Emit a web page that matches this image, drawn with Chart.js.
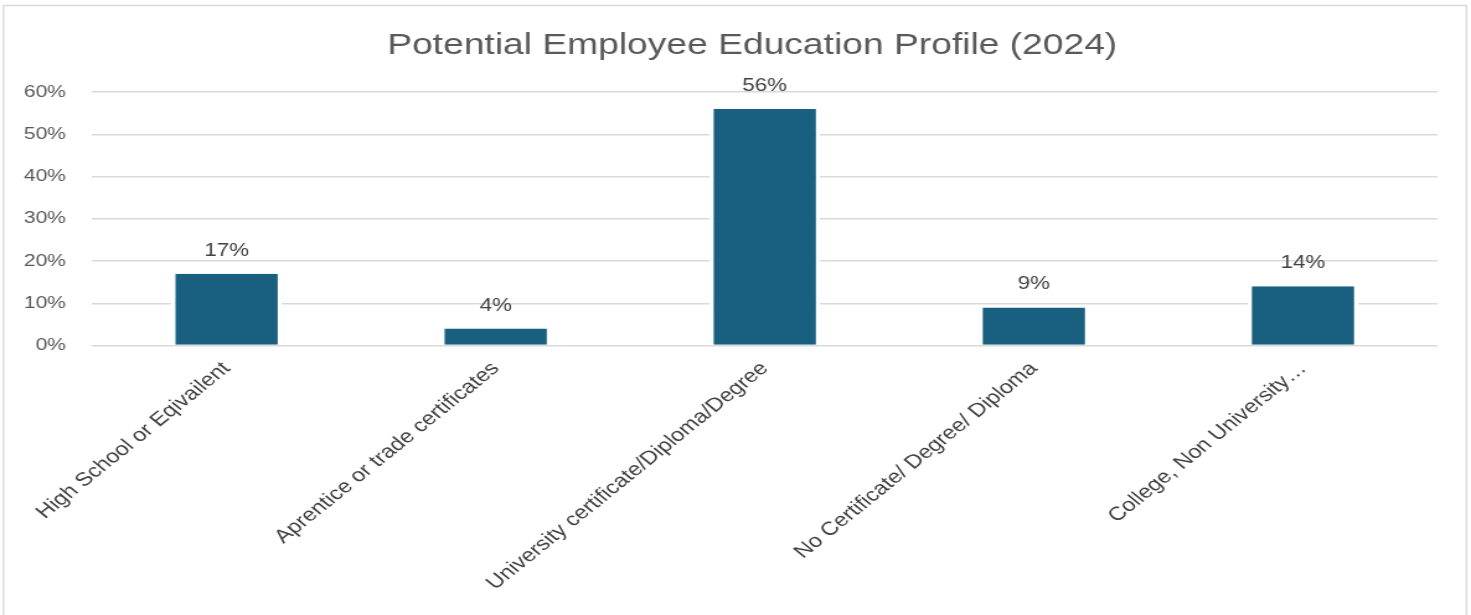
<!DOCTYPE html>
<html>
<head>
<meta charset="utf-8">
<script src="https://cdn.jsdelivr.net/npm/chart.js@4.4.1/dist/chart.umd.min.js"></script>
<style>
  html, body { margin: 0; padding: 0; background: #ffffff; overflow: hidden; }
  #wrap { position: absolute; left: 0; top: 0; width: 1186px; height: 615px;
          transform: scaleX(1.2403); transform-origin: 0 0; }
</style>
</head>
<body>
<div id="wrap"><canvas id="chart" width="1186" height="615"></canvas></div>
<script>
// Education profile, share of potential employees (percent)
const titleText = 'Potential Employee Education Profile (2024)';
const categories = [
  'High School or Eqivailent',
  'Aprentice or trade certificates',
  'University certificate/Diploma/Degree',
  'No Certificate/ Degree/ Diploma',
  'College, Non University\u2026'
];
const shares = [17, 4, 56, 9, 14];
const yTicks = [0, 10, 20, 30, 40, 50, 60];

const FONT = '"Liberation Sans", Arial, sans-serif';
const GRID = '#D9D9D9';
const TEXT = '#595959';
const LABEL = '#404040';
const BAR = '#185F80';

// Outer frame of the chart box and the title
const framePlugin = {
  id: 'frame',
  beforeDraw(chart) {
    const ctx = chart.ctx;
    ctx.save();
    ctx.strokeStyle = GRID;
    ctx.lineWidth = 1.3;
    ctx.beginPath();
    ctx.moveTo(2.8, chart.height + 2);
    ctx.lineTo(2.8, 5.5);
    ctx.lineTo(1182.3, 5.5);
    ctx.lineTo(1182.3, chart.height + 2);
    ctx.stroke();
    ctx.fillStyle = TEXT;
    ctx.font = '30px ' + FONT;
    ctx.textAlign = 'center';
    ctx.textBaseline = 'alphabetic';
    ctx.fillText(titleText, 606.5, 54);
    ctx.restore();
  }
};

// Value labels above each bar
const valueLabels = {
  id: 'valueLabels',
  afterDatasetsDraw(chart) {
    const ctx = chart.ctx;
    const meta = chart.getDatasetMeta(0);
    const data = chart.data.datasets[0].data;
    ctx.save();
    ctx.fillStyle = LABEL;
    ctx.font = '18px ' + FONT;
    ctx.textAlign = 'center';
    ctx.textBaseline = 'alphabetic';
    meta.data.forEach((bar, i) => {
      ctx.fillText(data[i] + '%', bar.x, bar.y - 18);
    });
    ctx.restore();
  }
};

new Chart(document.getElementById('chart'), {
  type: 'bar',
  data: {
    labels: categories,
    datasets: [{
      data: shares,
      backgroundColor: BAR,
      borderColor: '#ffffff',
      borderWidth: { left: 3.5, right: 3.5, top: 0, bottom: 0 },
      borderSkipped: false,
      categoryPercentage: 1,
      barPercentage: 0.412
    }]
  },
  options: {
    responsive: false,
    devicePixelRatio: 1,
    animation: false,
    layout: { padding: { top: 92, left: 0, right: 27, bottom: 0 } },
    plugins: {
      legend: { display: false },
      title: { display: false },
      tooltip: { enabled: false }
    },
    scales: {
      x: {
        grid: { display: false },
        border: { display: false },
        afterFit(scale) { scale.height = 269.5; },
        ticks: {
          autoSkip: false,
          minRotation: 45,
          maxRotation: 45,
          padding: 4,
          color: LABEL,
          font: { family: FONT, size: 19 }
        }
      },
      y: {
        min: yTicks[0],
        max: yTicks[yTicks.length - 1],
        afterFit(scale) { scale.width = 74.2; },
        afterBuildTicks(scale) { scale.ticks = yTicks.map(v => ({ value: v })); },
        grid: { color: GRID, lineWidth: 1.5, drawTicks: false },
        border: { display: false },
        ticks: {
          padding: 21,
          color: TEXT,
          font: { family: FONT, size: 17 },
          callback: v => v + '%'
        }
      }
    }
  },
  plugins: [framePlugin, valueLabels]
});
</script>
</body>
</html>
